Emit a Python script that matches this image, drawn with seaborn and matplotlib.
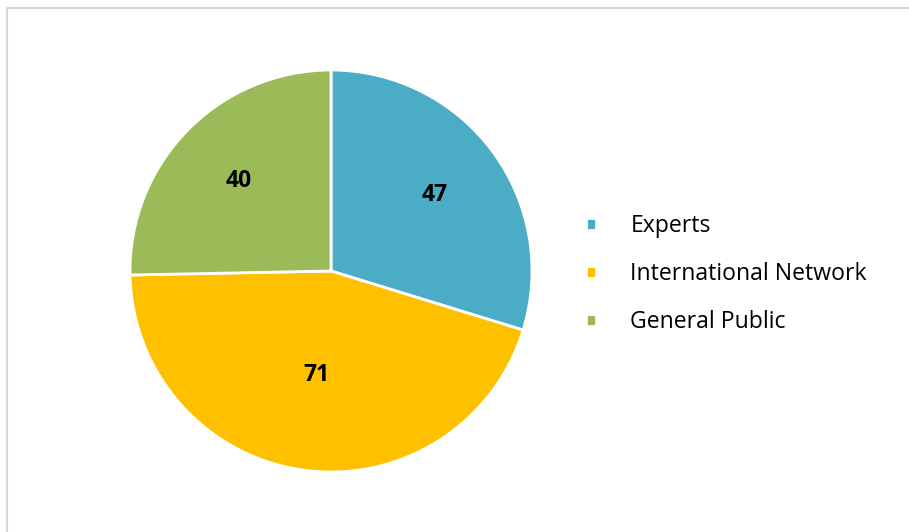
import matplotlib
matplotlib.use("Agg")
import matplotlib.pyplot as plt
import seaborn as sns
from matplotlib.patches import Rectangle

categories = ["Experts", "International Network", "General Public"]
values = [47, 71, 40]
colors = ["#4BACC6", "#FFC000", "#9BBB59"]

sns.set_theme(style="white")
plt.rcParams["font.family"] = ["Open Sans", "DejaVu Sans"]

fig = plt.figure(figsize=(9.09, 5.32), dpi=100)

# light grey chart border (right and bottom edges fall outside the image)
fig.patches.append(Rectangle((7.5 / 909, -0.05), 1.1, 1.05 - 7.5 / 532,
                             transform=fig.transFigure, fill=False,
                             edgecolor="#d9d9d9", linewidth=1.5))

ax = fig.add_axes([(331 - 201) / 909, (261 - 201) / 532, 402 / 909, 402 / 532])
palette = sns.color_palette(colors)
wedges, texts, autotexts = ax.pie(
    values, colors=palette, startangle=90, counterclock=False,
    autopct=lambda p: f"{p * sum(values) / 100:.0f}", pctdistance=0.64,
    wedgeprops=dict(edgecolor="white", linewidth=2),
    textprops=dict(fontsize=16.5, fontweight="bold", color="black"),
)
# the big slice label sits a little closer to the centre
x, y = autotexts[1].get_position()
autotexts[1].set_position((x * 0.52 / 0.64, y * 0.52 / 0.64))
ax.set_xlim(-1, 1)
ax.set_ylim(-1, 1)

leg = fig.legend(wedges, categories, loc="center left",
                 bbox_to_anchor=(577 / 909, (532 - 274) / 532),
                 frameon=False, fontsize=16.6, handlelength=0.42, handleheight=0.42,
                 handletextpad=1.5, labelspacing=1.05, borderaxespad=0,
                 labelcolor="black")

fig.savefig("out.png", dpi=100)
